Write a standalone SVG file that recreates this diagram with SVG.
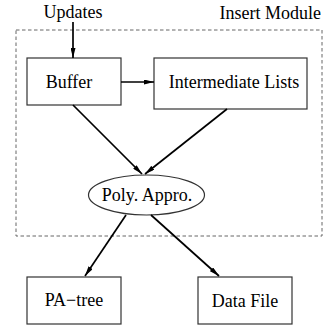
<svg xmlns="http://www.w3.org/2000/svg" width="327" height="330" viewBox="0 0 327 330">
  <style>
    .box { fill: #fff; stroke: #333; stroke-width: 1.2; }
    .lbl { font-family: "Liberation Serif", "Times New Roman", serif; font-size: 18px; fill: #000; }
    .edge { stroke: #000; stroke-width: 1.7; fill: none; marker-end: url(#head); }
    .module { fill: none; stroke: #666; stroke-width: 1; stroke-dasharray: 3.5 2.5; }
  </style>
  <defs>
    <marker id="head" viewBox="0 0 10 5" refX="10" refY="2.5" markerWidth="10" markerHeight="5" markerUnits="userSpaceOnUse" orient="auto">
      <path d="M0,0 L10,2.5 L0,5 z" fill="#000"/>
    </marker>
  </defs>

  <rect width="327" height="330" fill="#fff"/>

  <!-- module boundary -->
  <g id="insert-module">
    <rect class="module" x="16" y="30" width="306" height="206"/>
    <text class="lbl" x="321" y="19" text-anchor="end">Insert Module</text>
  </g>

  <g id="updates">
    <text class="lbl" x="73" y="18" text-anchor="middle">Updates</text>
  </g>

  <g id="buffer">
    <rect class="box" x="27" y="58" width="94" height="47"/>
    <text class="lbl" x="69" y="88" text-anchor="middle">Buffer</text>
  </g>

  <g id="intermediate-lists">
    <rect class="box" x="154" y="58" width="153" height="51"/>
    <text class="lbl" x="234" y="88" text-anchor="middle">Intermediate Lists</text>
  </g>

  <g id="poly-appro">
    <ellipse class="box" cx="146.5" cy="195" rx="58" ry="20"/>
    <text class="lbl" x="147" y="201" text-anchor="middle">Poly. Appro.</text>
  </g>

  <g id="pa-tree">
    <rect class="box" x="27" y="277" width="94" height="47"/>
    <text class="lbl" x="74" y="306" text-anchor="middle">PA&#8722;tree</text>
  </g>

  <g id="data-file">
    <rect class="box" x="198" y="277" width="94" height="47"/>
    <text class="lbl" x="245" y="307" text-anchor="middle">Data File</text>
  </g>

  <!-- connectors -->
  <g id="connectors">
    <line class="edge" x1="73" y1="22" x2="73" y2="58"/>
    <line class="edge" x1="121" y1="82" x2="154" y2="82"/>
    <line class="edge" x1="73" y1="105" x2="142" y2="174"/>
    <line class="edge" x1="227" y1="109" x2="145" y2="174"/>
    <line class="edge" x1="126" y1="215" x2="85" y2="276"/>
    <line class="edge" x1="151" y1="215" x2="219" y2="276"/>
  </g>
</svg>
